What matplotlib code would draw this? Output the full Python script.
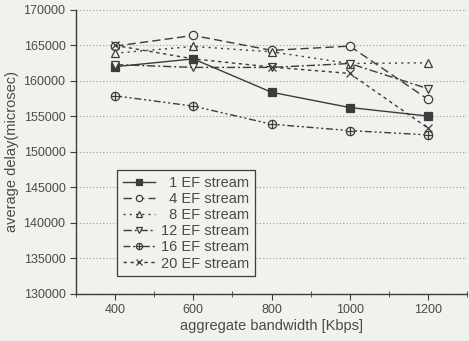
import matplotlib
matplotlib.use("Agg")
import matplotlib.pyplot as plt
from matplotlib.path import Path
from matplotlib.ticker import MultipleLocator

bandwidth = [400, 600, 800, 1000, 1200]
series_names = ["1 EF stream", "4 EF stream", "8 EF stream",
                "12 EF stream", "16 EF stream", "20 EF stream"]
delay_1 = [162000, 163100, 158400, 156250, 155050]
delay_4 = [164900, 166400, 164300, 164900, 157400]
delay_8 = [163900, 164850, 164100, 162450, 162550]
delay_12 = [162300, 161900, 161900, 162450, 158900]
delay_16 = [157900, 156450, 153900, 153000, 152400]
delay_20 = [165000, 163100, 161950, 161050, 153350]

plt.rcParams["font.family"] = ["Liberation Sans", "DejaVu Sans"]
ink = "#3c3c3c"
txt = "#4a4a4a"
bg = "#f1f1ed"

# circle with a cross inside (Origin-style "circle plus")
oplus = Path.make_compound_path(
    Path.unit_circle(),
    Path([[-1, 0], [1, 0]]),
    Path([[0, -1], [0, 1]]),
)

fig = plt.figure(figsize=(4.69, 3.41), dpi=100, facecolor=bg)
ax = fig.add_axes([0.162, 0.138, 0.834, 0.833], facecolor=bg)

styles = [
    dict(ls="-", marker="s", mfc=ink),
    dict(ls=(0, (6, 3)), marker="o", mfc=bg),
    dict(ls=(0, (1.5, 3)), marker="^", mfc=bg),
    dict(ls=(0, (6, 2, 1.5, 2)), marker="v", mfc=bg),
    dict(ls=(0, (5, 2, 1.5, 2, 1.5, 2)), marker=oplus, mfc=bg),
    dict(ls=(0, (2.5, 2.5)), marker="x", mfc=bg),
]
all_delays = [delay_1, delay_4, delay_8, delay_12, delay_16, delay_20]
for name, d, st in zip(series_names, all_delays, styles):
    ax.plot(bandwidth, d, color=ink, lw=1.0, mec=ink, mew=0.9, ms=6,
            label=name, **st)

ax.set_xlim(300, 1300)
ax.set_ylim(130000, 170000)
ax.xaxis.set_major_locator(MultipleLocator(200))
ax.xaxis.set_minor_locator(MultipleLocator(100))
ax.yaxis.set_major_locator(MultipleLocator(5000))
ax.grid(axis="y", ls=(0, (1, 2)), color="#9a9a9a", lw=0.8)
ax.set_axisbelow(True)

for side in ("top", "right"):
    ax.spines[side].set_visible(False)
for side in ("left", "bottom"):
    ax.spines[side].set_color(ink)
    ax.spines[side].set_linewidth(1.0)
ax.tick_params(axis="both", which="major", direction="out", length=4,
               color=ink, labelcolor=txt, labelsize=9)
ax.tick_params(axis="x", which="minor", direction="inout", length=4, color=ink)

ax.set_xlabel("aggregate bandwidth [Kbps]", fontsize=10.5, color=txt, labelpad=2)
ax.set_ylabel("average delay(microsec)", fontsize=10.5, color=txt, labelpad=3)

# right-align the stream counts like the original legend
handles, labels = ax.get_legend_handles_labels()
labels = [("\u2007" + s) if s.index(" ") == 1 else s for s in labels]
leg = ax.legend(handles, labels, loc="upper left", bbox_to_anchor=(0.105, 0.437),
                borderaxespad=0, fontsize=10.5, markerscale=0.75,
                frameon=True, fancybox=False, edgecolor=ink, facecolor=bg,
                framealpha=1, handlelength=2.2, handletextpad=0.4,
                labelspacing=0.15, borderpad=0.4, labelcolor=txt)
leg.get_frame().set_linewidth(0.9)

fig.savefig("out.png", dpi=100, facecolor=bg)
